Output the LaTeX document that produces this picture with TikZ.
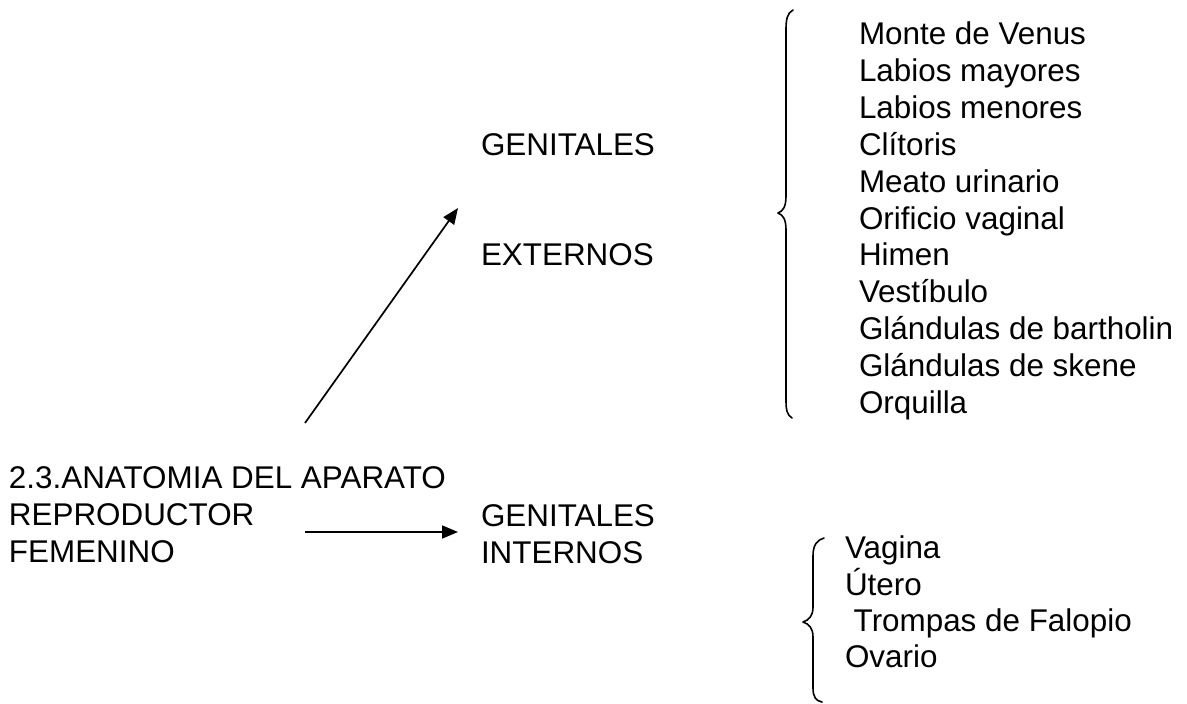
\documentclass[tikz,border=0pt]{standalone}
\usepackage{fontspec}
\setmainfont{Liberation Sans}
\usetikzlibrary{arrows.meta}
\tikzset{
  lbl/.style={anchor=base west, inner sep=0pt, outer sep=0pt, font=\fontsize{31.4}{37}\selectfont},
  conn/.style={line width=1.7pt, -{Triangle[length=16pt,width=13pt]}},
  bracepath/.style={line width=1.6pt, line cap=round, line join=round}
}
\begin{document}
\begin{tikzpicture}[x=1pt,y=-1pt]
\useasboundingbox (0,0) rectangle (1187,704);
% left block
\node[lbl] (t1) at (9,488) {2.3.ANATOMIA DEL APARATO};
\node[lbl] (t2) at (9,525) {REPRODUCTOR};
\node[lbl] (t3) at (9,562) {FEMENINO};
% middle labels
\node[lbl] (ge) at (481,155) {GENITALES};
\node[lbl] (ex) at (481,265) {EXTERNOS};
\node[lbl] (gi) at (481,526) {GENITALES};
\node[lbl] (in) at (481,563) {INTERNOS};
% external list
\node[lbl] (e1) at (859,45) {Monte de Venus};
\node[lbl] (e2) at (859,81.8) {Labios mayores};
\node[lbl] (e3) at (859,118.6) {Labios menores};
\node[lbl] (e4) at (859,155.4) {Clítoris};
\node[lbl] (e5) at (859,192.2) {Meato urinario};
\node[lbl] (e6) at (859,229) {Orificio vaginal};
\node[lbl] (e7) at (859,265.8) {Himen};
\node[lbl] (e8) at (859,302.6) {Vestíbulo};
\node[lbl] (e9) at (859,339.4) {Glándulas de bartholin};
\node[lbl] (e10) at (859,376.2) {Glándulas de skene};
\node[lbl] (e11) at (859,413) {Orquilla};
% internal list
\node[lbl] (i1) at (845,558) {Vagina};
\node[lbl] (i2) at (845,595) {Útero};
\node[lbl] (i3) at (845,631) {\ Trompas de Falopio};
\node[lbl] (i4) at (845,667) {Ovario};
% arrows
\coordinate (a1s) at (305,423);
\coordinate (a1e) at (458,208);
\coordinate (a2s) at (305,532);
\coordinate (a2e) at (458,532);
\draw[conn] (a1s) -- (a1e);
\draw[conn] (a2s) -- (a2e);
% braces
\draw[bracepath] (793,10) .. controls (787,13) and (786,20) .. (786,30)
  -- (786,196) .. controls (786,207) and (783,211) .. (778,213)
  .. controls (783,215) and (786,219) .. (786,230)
  -- (786,400) .. controls (786,410) and (787,415) .. (792,418);
\draw[bracepath] (824,538) .. controls (817,540) and (813,545) .. (813,556)
  -- (813,607) .. controls (813,616) and (809,620) .. (803,622)
  .. controls (809,624) and (813,628) .. (813,637)
  -- (813,688) .. controls (813,697) and (816,701) .. (822,702);
\end{tikzpicture}
\end{document}
